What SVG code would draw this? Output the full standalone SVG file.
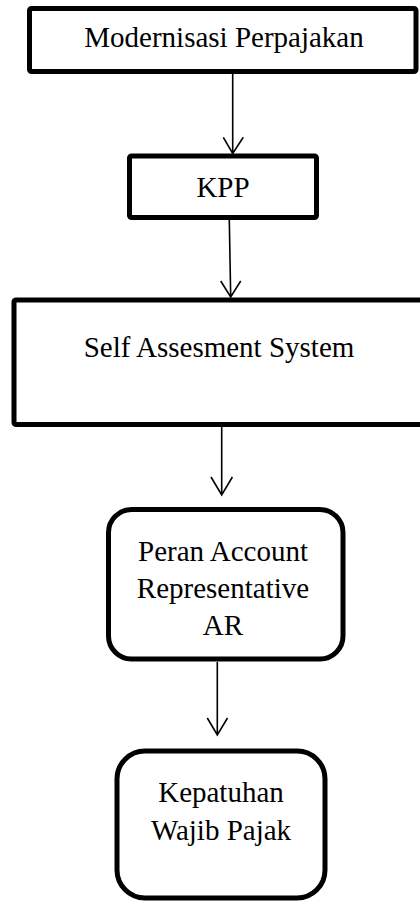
<svg xmlns="http://www.w3.org/2000/svg" width="420" height="901" viewBox="0 0 420 901">
<style>
.box{fill:#fff;stroke:#000;stroke-width:5}
.t{font-family:"Liberation Serif","Times New Roman",serif;font-size:29px;fill:#000;text-anchor:middle}
.c{fill:none;stroke:#000;stroke-width:1.6}
</style>
<rect width="420" height="901" fill="#fff"/>
<g id="n1"><rect class="box" x="29.5" y="8.5" width="386.5" height="63" rx="2"/><text class="t" x="224" y="47">Modernisasi Perpajakan</text></g>
<g id="n2"><rect class="box" x="129.5" y="156" width="187" height="61.5" rx="2"/><text class="t" x="223" y="197">KPP</text></g>
<g id="n3"><rect class="box" x="14" y="300" width="412" height="124.5" rx="2"/><text class="t" x="219" y="357">Self Assesment System</text></g>
<g id="n4"><rect class="box" x="108.5" y="509.5" width="234.5" height="149.5" rx="23"/><text class="t" x="223" y="561">Peran Account</text><text class="t" x="223" y="598">Representative</text><text class="t" x="223" y="635">AR</text></g>
<g id="n5"><rect class="box" x="117" y="751" width="208" height="147" rx="28"/><text class="t" x="221" y="802">Kepatuhan</text><text class="t" x="221" y="840">Wajib Pajak</text></g>
<g id="connectors">
<path class="c" d="M232.7 74V153.5M223.3 137.3L232.7 153.5L243.3 137.3"/>
<path class="c" d="M229.3 220L230.7 297M220.7 281L230.7 297L240.7 281"/>
<path class="c" d="M221.7 427V495M211 477L221.7 495L232.4 477"/>
<path class="c" d="M217.3 662V735M207.3 718L217.3 735L227.5 718"/>
</g>
</svg>
